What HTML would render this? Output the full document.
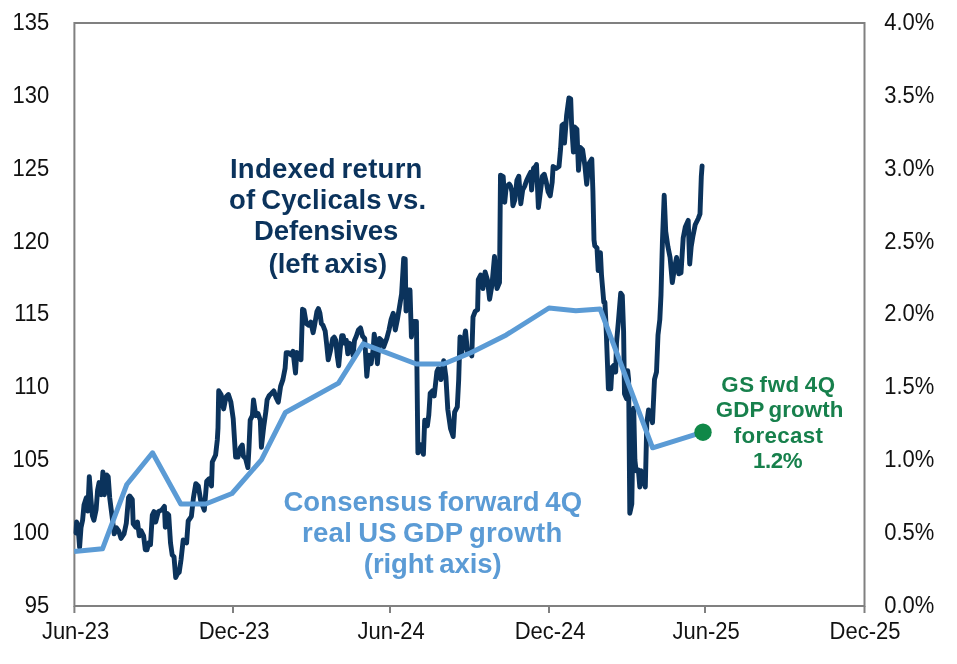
<!DOCTYPE html>
<html><head><meta charset="utf-8"><style>
html,body{margin:0;padding:0;background:#fff;}
body{width:957px;height:664px;overflow:hidden;}
svg{display:block;filter:blur(0.4px);font-family:"Liberation Sans",sans-serif;}
</style></head><body>
<svg width="957" height="664" viewBox="0 0 957 664">
<rect x="0" y="0" width="957" height="664" fill="#fff"/>
<g fill="#111" font-size="22"><text transform="translate(49.2 612.90) scale(1 1.07)" text-anchor="end">95</text><text transform="translate(49.2 540.02) scale(1 1.07)" text-anchor="end">100</text><text transform="translate(49.2 467.15) scale(1 1.07)" text-anchor="end">105</text><text transform="translate(49.2 394.27) scale(1 1.07)" text-anchor="end">110</text><text transform="translate(49.2 321.40) scale(1 1.07)" text-anchor="end">115</text><text transform="translate(49.2 248.53) scale(1 1.07)" text-anchor="end">120</text><text transform="translate(49.2 175.65) scale(1 1.07)" text-anchor="end">125</text><text transform="translate(49.2 102.78) scale(1 1.07)" text-anchor="end">130</text><text transform="translate(49.2 29.90) scale(1 1.07)" text-anchor="end">135</text><text transform="translate(884.2 612.90) scale(1 1.07)">0.0%</text><text transform="translate(884.2 540.02) scale(1 1.07)">0.5%</text><text transform="translate(884.2 467.15) scale(1 1.07)">1.0%</text><text transform="translate(884.2 394.27) scale(1 1.07)">1.5%</text><text transform="translate(884.2 321.40) scale(1 1.07)">2.0%</text><text transform="translate(884.2 248.53) scale(1 1.07)">2.5%</text><text transform="translate(884.2 175.65) scale(1 1.07)">3.0%</text><text transform="translate(884.2 102.78) scale(1 1.07)">3.5%</text><text transform="translate(884.2 29.90) scale(1 1.07)">4.0%</text><text transform="translate(75.50 639.2) scale(1 1.07)" text-anchor="middle">Jun-23</text><text transform="translate(234.10 639.2) scale(1 1.07)" text-anchor="middle">Dec-23</text><text transform="translate(391.10 639.2) scale(1 1.07)" text-anchor="middle">Jun-24</text><text transform="translate(550.10 639.2) scale(1 1.07)" text-anchor="middle">Dec-24</text><text transform="translate(706.10 639.2) scale(1 1.07)" text-anchor="middle">Jun-25</text><text transform="translate(865.00 639.2) scale(1 1.07)" text-anchor="middle">Dec-25</text></g>
<rect x="74.4" y="23" width="790.1" height="583" fill="none" stroke="#808080" stroke-width="2"/>
<g stroke="#808080" stroke-width="2"><line x1="74.4" y1="606" x2="74.4" y2="613" /><line x1="233" y1="606" x2="233" y2="613" /><line x1="390" y1="606" x2="390" y2="613" /><line x1="549" y1="606" x2="549" y2="613" /><line x1="705" y1="606" x2="705" y2="613" /><line x1="864.5" y1="606" x2="864.5" y2="613" /></g>
<polyline points="76.0,533.0 76.6,522.0 78.0,526.0 79.6,547.4 81.0,527.8 82.6,520.3 84.0,505.0 86.3,497.7 87.8,511.0 89.3,476.6 90.8,497.7 92.4,515.8 93.9,520.3 96.1,509.8 97.6,490.0 99.1,482.6 101.4,494.7 102.9,472.0 104.4,494.7 106.7,475.0 108.2,476.6 109.7,497.7 112.0,515.8 114.2,533.9 116.5,527.8 118.7,530.9 121.0,538.4 124.0,533.9 126.3,523.3 128.5,497.7 129.7,496.0 132.3,499.5 133.2,523.8 135.8,527.2 137.5,522.0 139.3,535.9 141.0,530.7 143.6,535.9 145.3,549.8 147.0,549.8 148.8,542.8 150.5,544.6 152.3,515.0 154.0,511.6 155.7,522.0 158.3,511.6 161.8,509.9 164.4,506.4 165.3,527.2 167.0,513.4 168.7,515.0 170.5,542.8 172.2,555.0 174.0,556.7 175.7,577.5 177.4,574.0 179.2,572.3 181.0,560.0 183.2,540.0 186.6,543.0 188.2,521.0 191.4,516.3 193.4,498.0 195.8,483.6 198.3,486.0 200.7,500.5 204.3,510.1 206.7,481.2 209.1,478.8 211.5,486.0 212.3,462.0 215.6,455.0 217.3,440.0 218.0,428.0 218.7,390.8 221.1,394.5 223.6,408.9 226.0,396.9 228.4,394.5 230.8,401.7 233.2,418.6 235.6,457.1 238.0,457.1 240.2,448.0 242.3,445.0 243.4,456.3 245.6,458.6 247.9,467.6 249.0,447.3 250.2,420.2 252.4,415.7 253.5,399.9 255.8,415.7 258.0,413.5 260.3,420.2 261.4,447.3 263.7,427.0 265.9,411.2 267.1,399.9 269.3,395.4 271.6,393.2 273.8,390.9 276.1,397.7 278.3,402.2 280.6,386.4 282.9,379.6 285.1,368.3 286.2,352.6 288.5,352.6 290.8,354.8 293.0,351.4 295.5,373.0 296.8,352.5 298.8,353.8 301.0,359.8 302.5,309.3 304.0,310.1 306.3,323.6 308.6,325.2 310.8,322.1 313.1,332.7 314.6,325.2 316.9,311.6 318.4,308.6 319.9,313.1 321.4,323.6 322.9,325.2 325.2,331.2 326.7,344.8 328.2,359.8 330.4,350.8 332.7,338.7 334.2,337.2 335.7,340.2 337.2,355.3 338.7,365.9 340.2,349.3 341.7,335.7 343.2,335.7 344.8,343.2 346.3,340.2 347.8,353.8 349.3,343.2 351.5,344.8 353.0,355.3 354.5,340.5 356.3,336.3 358.4,330.0 360.5,327.9 362.6,336.3 364.7,338.4 366.8,376.3 368.9,355.3 371.1,363.7 373.2,349.0 374.2,334.2 376.3,346.8 377.4,363.7 379.5,338.4 381.6,340.5 383.7,346.8 386.8,338.4 389.0,330.0 391.1,319.5 393.2,313.2 395.3,330.0 397.4,319.5 399.5,306.8 401.6,294.0 403.7,258.4 405.2,259.0 406.0,311.0 407.9,290.0 410.0,290.0 411.4,337.0 413.6,321.4 416.4,321.4 417.9,452.9 420.6,444.8 423.4,454.3 424.7,420.3 427.4,425.8 428.8,414.9 430.2,393.2 432.9,390.5 434.2,395.9 436.9,371.5 438.3,368.7 441.0,379.6 443.7,360.6 445.9,376.9 447.8,409.5 450.5,428.5 453.2,436.6 454.6,412.2 457.3,406.8 458.7,379.6 460.0,337.0 461.0,356.0 463.0,346.0 465.5,331.0 467.5,352.0 470.0,350.0 471.8,356.0 473.0,317.2 475.3,311.2 477.6,309.7 478.3,279.6 480.6,275.0 482.9,288.6 485.1,272.0 487.4,279.6 489.6,299.2 491.9,285.6 494.5,256.5 497.0,288.6 499.5,282.6 500.5,175.1 503.2,176.6 504.7,202.2 506.2,187.1 509.3,184.1 510.5,186.0 512.0,192.0 512.9,205.7 514.9,199.8 516.9,180.2 518.8,176.3 520.8,203.7 522.7,190.0 524.7,186.1 526.7,180.2 528.6,176.3 530.6,172.4 531.6,190.0 533.5,168.4 535.5,166.5 536.5,164.5 538.4,207.6 540.4,192.0 542.4,176.3 544.3,174.3 546.3,182.2 548.2,192.0 550.2,195.9 552.2,182.2 553.1,166.5 556.1,168.4 559.0,166.5 560.6,148.8 562.0,125.3 563.5,124.0 564.5,143.0 566.6,115.5 568.9,98.0 570.7,99.0 571.6,124.6 573.4,152.1 574.6,126.9 576.9,129.2 578.5,170.4 580.3,147.5 582.6,149.8 584.9,165.9 586.7,184.2 589.0,163.6 591.8,159.0 592.9,191.0 594.0,240.0 594.8,245.8 597.0,248.0 598.2,270.6 600.4,252.6 601.5,275.1 603.8,302.2 604.9,302.2 606.0,324.7 607.5,365.0 608.4,388.9 610.8,388.9 612.0,367.2 614.5,364.8 615.7,372.0 616.5,342.8 618.5,320.2 620.7,293.2 622.3,295.4 623.6,331.5 624.5,393.7 626.5,398.6 627.7,370.8 628.6,379.3 629.8,513.3 631.8,504.0 632.5,461.2 633.7,408.2 634.9,460.0 636.1,470.8 638.4,470.0 639.8,487.0 641.0,470.8 643.4,478.0 645.3,487.0 646.8,423.0 648.5,410.0 650.6,413.0 652.5,422.7 654.5,379.4 656.5,372.0 658.0,335.0 659.8,319.8 661.0,295.0 662.4,242.2 664.2,195.3 665.7,231.3 667.9,246.6 670.1,257.5 672.3,282.6 674.4,268.4 676.6,257.5 678.8,273.9 681.0,272.8 683.2,237.9 685.3,227.0 688.2,220.4 689.7,264.0 691.2,246.6 693.0,235.7 695.2,224.8 698.4,218.2 700.0,213.9 701.3,176.8 702.1,165.9" fill="none" stroke="#0b335c" stroke-width="4.9" stroke-linejoin="round" stroke-linecap="round"/>
<polyline points="74.2,551.5 102.5,548.8 126.8,484.5 152.5,452.8 180.8,504.0 205.6,504.0 232.0,493.5 261.4,459.9 285.4,412.5 338.5,383.1 363.2,343.8 416.4,364.0 443.6,364.0 470.8,352.7 506.3,334.9 549.0,308.0 575.8,310.8 600.2,309.0 652.6,447.8 703.0,432.2" fill="none" stroke="#5b9bd5" stroke-width="5" stroke-linejoin="round" stroke-linecap="butt"/>
<circle cx="703" cy="432.2" r="8.7" fill="#108848"/>
<text x="229.90" y="178.3" font-size="27.5" font-weight="bold" fill="#0b335c" textLength="192.52" lengthAdjust="spacing" word-spacing="-2">Indexed return</text><text x="229.10" y="209.0" font-size="27.5" font-weight="bold" fill="#0b335c" textLength="196.92" lengthAdjust="spacing" word-spacing="-2">of Cyclicals vs.</text><text x="253.90" y="240.2" font-size="27.5" font-weight="bold" fill="#0b335c" textLength="144.43" lengthAdjust="spacing" word-spacing="-2">Defensives</text><text x="268.60" y="272.5" font-size="27.5" font-weight="bold" fill="#0b335c" textLength="118.53" lengthAdjust="spacing" word-spacing="-2">(left axis)</text><text x="283.40" y="510.8" font-size="27.5" font-weight="bold" fill="#5b9bd5" textLength="298.65" lengthAdjust="spacing" word-spacing="-2">Consensus forward 4Q</text><text x="302.00" y="541.9" font-size="27.5" font-weight="bold" fill="#5b9bd5" textLength="260.20" lengthAdjust="spacing" word-spacing="-2">real US GDP growth</text><text x="363.80" y="572.7" font-size="27.5" font-weight="bold" fill="#5b9bd5" textLength="137.78" lengthAdjust="spacing" word-spacing="-2">(right axis)</text><text x="721.30" y="391.9" font-size="22.3" font-weight="bold" fill="#17804c" textLength="113.75" lengthAdjust="spacing" word-spacing="-2">GS fwd 4Q</text><text x="715.70" y="416.8" font-size="22.3" font-weight="bold" fill="#17804c" textLength="127.72" lengthAdjust="spacing" word-spacing="-2">GDP growth</text><text x="733.80" y="443.2" font-size="22.3" font-weight="bold" fill="#17804c" textLength="89.15" lengthAdjust="spacing" word-spacing="-2">forecast</text><text x="752.90" y="467.5" font-size="22.3" font-weight="bold" fill="#17804c" textLength="49.73" lengthAdjust="spacing" word-spacing="-2">1.2%</text>
</svg>
</body></html>
